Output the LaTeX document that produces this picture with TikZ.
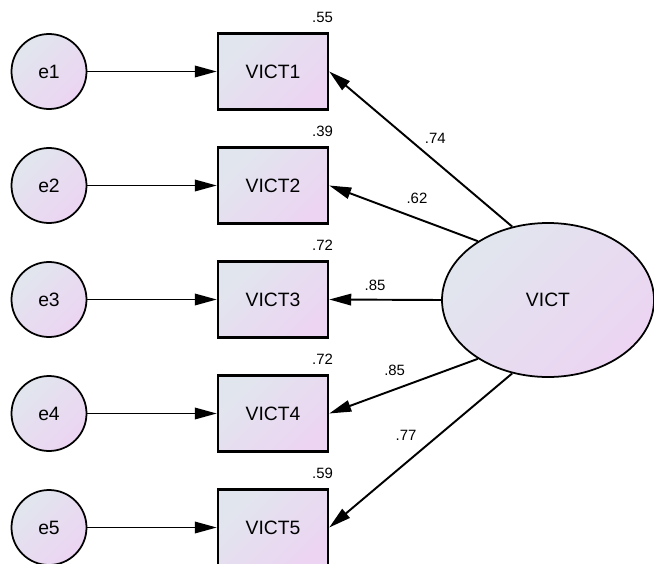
\documentclass[tikz,border=0pt]{standalone}
\usepackage{fontspec}
\setmainfont{Liberation Sans}
\usetikzlibrary{arrows.meta,shapes.geometric}
\definecolor{fillA}{RGB}{225,230,238}
\definecolor{fillB}{RGB}{236,212,242}

\begin{document}
\begin{tikzpicture}[grad/.style = {top color=fillA,bottom color=fillB,shading angle=45},
    err/.style = {circle,draw=black,line width=1pt,minimum size=1.5cm,inner sep=0pt,grad,font=\fontsize{11}{13}\selectfont},
    obs/.style = {rectangle,draw=black,line width=1.4pt,minimum width=2.2cm,minimum height=1.52cm,inner sep=0pt,grad,font=\fontsize{11}{13}\selectfont},
    lat/.style = {ellipse,draw=black,line width=1pt,minimum width=4.24cm,minimum height=3.08cm,inner sep=0pt,grad,font=\fontsize{11}{13}\selectfont},
    num/.style = {inner sep=0pt,font=\fontsize{8.5}{10}\selectfont},
    path/.style = {draw=black,line width=1.1pt,-{Triangle[length=4.4mm,width=2.3mm]}}]
\useasboundingbox (0,0) rectangle (13.08,-11.26);
\foreach \r [count=\j from 1] in {.55, .39, .72, .72, .59} {
    \node[err] (e\j) at (0.98, {-1.43-2.28*(\j-1)}) {e\j};
    \node[obs] (v\j) at (5.46, {-1.43-2.28*(\j-1)}) {VICT\j};
    \node[num,anchor=south east] (r\j) at ([shift={(0.08,0.18)}]v\j.north east) {\r};
    \draw[path] (e\j) -- (v\j);
}
\node[lat] (VICT) at (10.96,-6.0) {VICT};
\foreach \a/\w/\j/\p/\d in {116/.74/1/.42/.35, 140/.62/2/.41/.27, 180/.85/3/.59/.17, 220/.85/4/.56/.25, 244/.77/5/.58/.43}
    \draw[path] (VICT.\a) -- (v\j.east) node[num,pos=\p,above=\d cm] (w\j) {\w};
\end{tikzpicture}
\end{document}
